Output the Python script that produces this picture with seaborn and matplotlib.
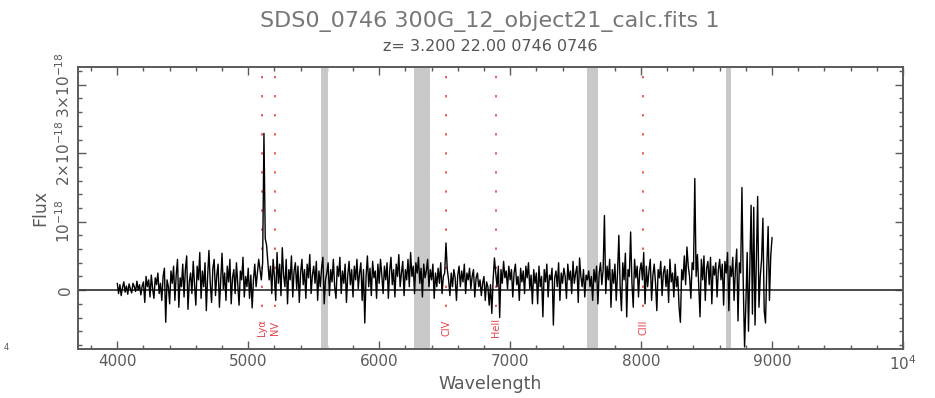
import numpy as np
import pandas as pd
import matplotlib
matplotlib.use("Agg")
import matplotlib.pyplot as plt
from matplotlib.ticker import MultipleLocator, FixedLocator
import seaborn as sns

# wavelength grid of the extracted spectrum (Angstrom)
wave_start, wave_end, wave_step = 4000, 9000, 10

# flux in units of 1e-18, one row = 200 A
flux_rows = [
    [0.10, -0.05, 0.08, -0.08, 0.04, 0.12, -0.03, 0.06, -0.06, 0.09, 0.02, -0.04, 0.10, 0.05, -0.02, 0.13, 0.00, 0.08, -0.07, 0.06],
    [0.12, -0.18, 0.20, 0.05, 0.15, -0.10, 0.22, 0.02, -0.12, 0.18, 0.08, 0.25, -0.05, 0.10, -0.15, 0.20, 0.32, -0.47, 0.15, 0.05],
    [-0.20, 0.28, 0.10, 0.35, -0.15, 0.22, 0.45, -0.25, 0.18, 0.05, 0.38, -0.10, 0.30, 0.50, -0.28, 0.12, 0.25, -0.05, 0.42, 0.08],
    [-0.22, 0.35, 0.15, 0.55, -0.12, 0.28, 0.05, 0.40, -0.30, 0.20, 0.58, 0.10, -0.18, 0.32, 0.45, -0.08, 0.22, 0.38, -0.25, 0.15],
    [0.54, 0.02, 0.25, -0.15, 0.35, 0.12, 0.45, -0.20, 0.18, 0.30, -0.05, 0.40, 0.08, -0.22, 0.28, 0.15, 0.48, -0.10, 0.20, 0.05],
    [0.32, -0.12, 0.22, -0.26, 0.15, 0.38, 0.05, 0.25, 0.45, 0.30, 0.15, 0.40, 2.29, 0.75, 0.66, 0.40, 0.15, 0.35, -0.05, 0.45],
    [0.20, -0.15, 0.55, 0.10, 0.38, -0.08, 0.62, 0.22, 0.05, 0.45, -0.20, 0.30, 0.15, 0.50, -0.10, 0.28, 0.40, 0.02, 0.35, -0.18],
    [0.25, 0.45, 0.08, 0.30, -0.12, 0.38, 0.18, 0.52, -0.05, 0.22, 0.35, 0.10, 0.42, -0.15, 0.28, 0.05, 0.32, 0.48, -0.20, 0.15],
    [0.25, 0.40, -0.08, 0.30, 0.12, 0.45, 0.05, -0.12, 0.35, 0.20, 0.48, -0.05, 0.28, 0.10, 0.38, -0.18, 0.22, 0.42, 0.08, 0.30],
    [-0.10, 0.35, 0.15, 0.45, 0.02, 0.25, 0.40, -0.15, 0.30, -0.48, 0.20, 0.50, 0.05, 0.32, -0.08, 0.42, 0.18, 0.28, -0.12, 0.38],
    [0.10, 0.45, 0.22, -0.05, 0.35, 0.15, 0.40, -0.12, 0.28, 0.48, 0.08, 0.30, -0.10, 0.38, 0.20, 0.52, 0.05, 0.25, 0.42, -0.08],
    [0.30, 0.15, 0.45, 0.05, 0.55, 0.20, 0.35, -0.05, 0.40, 0.25, 0.48, 0.10, 0.32, -0.10, 0.38, 0.18, 0.28, 0.45, 0.05, 0.30],
    [0.15, 0.38, -0.12, 0.25, 0.05, 0.32, 0.10, 0.40, -0.05, 0.20, 0.25, 0.69, 0.30, 0.15, -0.08, 0.25, 0.05, 0.30, 0.18, -0.15],
    [0.22, 0.35, 0.05, 0.28, 0.12, 0.38, -0.05, 0.25, 0.15, 0.32, 0.02, 0.20, 0.30, -0.10, 0.18, 0.25, 0.05, 0.15, -0.08, 0.10],
    [0.20, -0.15, 0.12, 0.05, -0.22, 0.08, -0.34, 0.15, 0.47, 0.25, 0.05, 0.35, -0.40, 0.30, 0.10, 0.42, 0.18, 0.28, 0.02, 0.35],
    [0.15, 0.30, -0.10, 0.25, 0.38, 0.08, 0.20, -0.15, 0.32, 0.12, 0.28, -0.05, 0.35, 0.18, 0.40, 0.02, 0.22, -0.20, 0.30, 0.10],
    [0.25, -0.20, 0.35, 0.05, 0.20, -0.39, 0.30, 0.12, 0.38, -0.10, 0.22, 0.15, 0.32, -0.51, 0.18, 0.28, 0.05, 0.40, -0.15, 0.25],
    [0.10, 0.32, 0.20, -0.12, 0.38, 0.15, 0.28, -0.05, 0.42, 0.10, 0.25, 0.35, -0.18, 0.47, 0.20, 0.05, 0.30, -0.10, 0.22, 0.15],
    [0.28, 0.05, 0.20, -0.15, 0.30, 0.12, 0.35, -0.20, 0.25, 0.40, 0.08, 0.30, 1.09, -0.05, 0.35, 0.15, 0.45, -0.25, 0.30, 0.10],
    [0.38, -0.15, 0.25, 0.80, 0.05, -0.30, 0.40, 0.15, 0.54, -0.39, 0.30, 0.20, 0.85, 0.10, -0.25, 0.45, 0.18, 0.35, -0.10, 0.28],
    [0.40, 0.15, 0.55, -0.20, 0.35, 0.05, 0.28, 0.45, -0.15, 0.22, 0.38, 0.10, -0.30, 0.30, 0.18, 0.42, -0.08, 0.25, 0.35, 0.05],
    [0.30, -0.18, 0.45, 0.12, 0.25, -0.10, 0.38, 0.05, 0.20, -0.25, -0.47, 0.30, 0.15, 0.50, 0.08, 0.63, 0.35, 0.20, -0.12, 0.40],
    [0.30, 1.63, 0.20, 0.52, 0.05, -0.39, 0.45, 0.15, 0.50, -0.15, 0.32, 0.42, 0.08, 0.48, -0.20, 0.35, 0.22, 0.40, -0.10, 0.30],
    [0.45, 0.15, 0.38, -0.22, 0.42, 0.25, 0.55, -0.30, 0.35, 0.20, 0.48, -0.15, 0.30, 0.60, -0.45, 0.40, 0.25, 1.50, 0.10, -0.83],
    [-0.20, 0.55, -0.60, 0.30, 1.24, -0.35, 1.21, -0.51, 0.40, 1.37, -0.25, 0.20, 0.45, 1.05, -0.30, -0.48, 0.35, 0.93, -0.15, 0.50],
    [0.77],
]

# emission lines expected at z = 3.2 (observed wavelength)
line_names = ["Ly\u03b1", "NV", "CIV", "HeII", "CIII"]
line_waves = [5107, 5208, 6511, 6893, 8018]

# sky / telluric regions masked in grey
sky_lo = [5552, 6268, 7590, 8648]
sky_hi = [5608, 6385, 7668, 8688]

SCALE = 1e-18
grey = "#5a5a5a"

flux = np.concatenate([np.array(r) for r in flux_rows]) * SCALE
wave = np.arange(wave_start, wave_end + 1, wave_step)
df = pd.DataFrame({"wave": wave, "flux": flux})

sns.set_style("ticks")
plt.rcParams["font.family"] = ["DejaVu Sans"]

fig = plt.figure(figsize=(9.35, 3.98), dpi=100)
ax = fig.add_axes([0.0834, 0.1231, 0.8824, 0.7086])

for lo, hi in zip(sky_lo, sky_hi):
    ax.axvspan(lo, hi, color="#c9c9c9", lw=0, zorder=1)

ax.axhline(0, color="#3a3a3a", lw=1.3, zorder=2)
for w in line_waves:
    ax.vlines(w, -0.25 * SCALE, 3.3 * SCALE, color="#f05a5a", lw=1.4,
              linestyles=(0, (1.2, 8.6)), zorder=2)

sns.lineplot(data=df, x="wave", y="flux", color="black", lw=1.0,
             estimator=None, ax=ax, zorder=3)

for name, w in zip(line_names, line_waves):
    ax.text(w, -0.55 * SCALE, name, rotation=90, ha="center", va="center",
            color="#e8404a", fontsize=7)

ax.set_xlim(3700, 10000)
ax.set_ylim(-0.86 * SCALE, 3.26 * SCALE)

ax.xaxis.set_major_locator(FixedLocator([4000, 5000, 6000, 7000, 8000, 9000, 10000]))
ax.xaxis.set_minor_locator(MultipleLocator(200))
ax.set_xticklabels(["4000", "5000", "6000", "7000", "8000", "9000", "10$^4$"])
ax.yaxis.set_major_locator(FixedLocator([0, 1e-18, 2e-18, 3e-18]))
ax.yaxis.set_minor_locator(MultipleLocator(0.2e-18))
ax.set_yticklabels(["0", "10$^{-18}$", "2\u00d710$^{-18}$", "3\u00d710$^{-18}$"],
                   rotation=90, va="center")

ax.tick_params(which="both", direction="in", top=True, right=True,
               color=grey, labelcolor=grey, labelsize=11, width=1)
ax.tick_params(which="major", length=6)
ax.tick_params(which="minor", length=3)
for s in ax.spines.values():
    s.set_color(grey)
    s.set_linewidth(1.4)

ax.set_xlabel("Wavelength", fontsize=12.5, color=grey, labelpad=2)
ax.set_ylabel("Flux", fontsize=12.5, color=grey, labelpad=4)

fig.text(0.524, 0.945, "SDS0_0746 300G_12_object21_calc.fits 1",
         ha="center", va="center", fontsize=16, color="#777777")
fig.text(0.524, 0.882, "z= 3.200 22.00 0746 0746",
         ha="center", va="center", fontsize=11.5, color="#555555")
fig.text(0.004, 0.12, "4", fontsize=6, color=grey)

fig.savefig("out.png", dpi=100)
